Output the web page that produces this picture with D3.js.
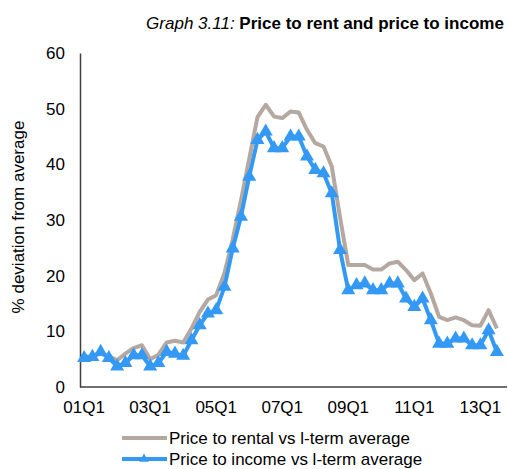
<!DOCTYPE html>
<html><head><meta charset="utf-8">
<script src="https://cdn.jsdelivr.net/npm/d3@7"></script>
<style>
html,body{margin:0;padding:0;background:#fff;}
svg{display:block;font-family:Arial,"Liberation Sans",sans-serif;}
</style></head>
<body>
<svg id="chart" width="508" height="469"></svg>
<script>
const categories = ["01Q1","01Q2","01Q3","01Q4","02Q1","02Q2","02Q3","02Q4","03Q1","03Q2","03Q3","03Q4",
"04Q1","04Q2","04Q3","04Q4","05Q1","05Q2","05Q3","05Q4","06Q1","06Q2","06Q3","06Q4",
"07Q1","07Q2","07Q3","07Q4","08Q1","08Q2","08Q3","08Q4","09Q1","09Q2","09Q3","09Q4",
"10Q1","10Q2","10Q3","10Q4","11Q1","11Q2","11Q3","11Q4","12Q1","12Q2","12Q3","12Q4",
"13Q1","13Q2","13Q3"];
const priceToRent = [5.5,5.5,6.0,5.5,4.8,6.0,7.0,7.5,5.0,5.8,8.0,8.3,8.0,10.5,13.5,15.7,16.5,20.5,26.5,33.5,
41.0,48.5,50.7,48.6,48.3,49.5,49.3,46.2,43.8,43.2,39.6,30.5,21.9,21.9,21.9,21.1,21.1,22.2,22.5,21.0,
19.2,20.4,16.8,12.6,12.0,12.5,12.0,11.1,11.0,13.8,10.5];
const priceToIncome = [5.2,5.4,6.3,5.2,3.7,4.3,5.7,5.7,3.7,4.3,6.3,6.0,5.6,8.4,11.1,13.2,13.8,18.0,24.9,30.6,
37.8,44.4,45.9,42.9,42.9,45.0,45.0,41.4,39.0,38.4,34.8,24.6,17.4,18.3,18.6,17.4,17.4,18.6,18.6,15.9,
14.4,15.9,12.0,7.8,7.8,8.7,8.7,7.5,7.5,10.2,6.3];
const xTickLabels = ["01Q1","03Q1","05Q1","07Q1","09Q1","11Q1","13Q1"];
const yTicks = [0,10,20,30,40,50,60];
const seriesNames = ["Price to rental vs l-term average","Price to income vs l-term average"];

const svg = d3.select("#chart");
const colRent = "#b5a8a0", colInc = "#3399f5";
const fs = 17;

const x = d3.scaleBand().domain(categories).range([80, 501]).padding(0);
const y = d3.scaleLinear().domain([0, 60]).range([387, 53]);
const cx = d => x(d) + x.bandwidth()/2;

// title
const t = svg.append("text").attr("x", 325).attr("y", 29).attr("text-anchor","middle")
  .style("font-size", fs+"px").attr("fill","#000");
t.append("tspan").style("font-style","italic").text("Graph 3.11: ");
t.append("tspan").style("font-weight","bold").text("Price to rent and price to income");

// axes
const yAxis = svg.append("g").attr("transform","translate(80,0)")
  .call(d3.axisLeft(y).tickValues(yTicks).tickSize(0).tickPadding(15));
yAxis.select(".domain").attr("stroke","#404040").attr("stroke-width",1.5);
yAxis.selectAll("text").style("font-size", fs+"px").attr("fill","#000").style("font-family","Arial, 'Liberation Sans', sans-serif");

const xAxis = svg.append("g").attr("transform","translate(0,387)")
  .call(d3.axisBottom(x).tickValues(xTickLabels).tickSize(0).tickPadding(14));
xAxis.select(".domain").remove();
xAxis.selectAll("text").style("font-size", fs+"px").attr("fill","#000").style("font-family","Arial, 'Liberation Sans', sans-serif");
svg.append("line").attr("x1",80).attr("x2",507).attr("y1",387).attr("y2",387)
  .attr("stroke","#404040").attr("stroke-width",1.5);

// y title
svg.append("text").attr("transform","translate(24,217) rotate(-90)").attr("text-anchor","middle")
  .style("font-size", fs+"px").attr("fill","#000").text("% deviation from average");

// lines
const line = d3.line().x((d,i)=>cx(categories[i])).y(d=>y(d));
svg.append("path").datum(priceToRent).attr("d", line).attr("fill","none")
  .attr("stroke", colRent).attr("stroke-width",4).attr("stroke-linejoin","round");
svg.append("path").datum(priceToIncome).attr("d", line).attr("fill","none")
  .attr("stroke", colInc).attr("stroke-width",4).attr("stroke-linejoin","round");
const tri = d3.symbol().type(d3.symbolTriangle).size(85);
svg.append("g").selectAll("path").data(priceToIncome).join("path")
  .attr("transform",(d,i)=>`translate(${cx(categories[i])},${y(d)})`)
  .attr("d", tri).attr("fill", colInc);

// legend
const lg = svg.append("g");
lg.append("line").attr("x1",122).attr("x2",167).attr("y1",438).attr("y2",438).attr("stroke",colRent).attr("stroke-width",4);
lg.append("text").attr("x",169).attr("y",444).style("font-size",fs+"px").text(seriesNames[0]);
lg.append("line").attr("x1",122).attr("x2",167).attr("y1",459).attr("y2",459).attr("stroke",colInc).attr("stroke-width",4);
lg.append("path").attr("transform","translate(144,459)").attr("d", d3.symbol().type(d3.symbolTriangle).size(40)).attr("fill",colInc);
lg.append("text").attr("x",169).attr("y",465).style("font-size",fs+"px").text(seriesNames[1]);
</script>
</body></html>
